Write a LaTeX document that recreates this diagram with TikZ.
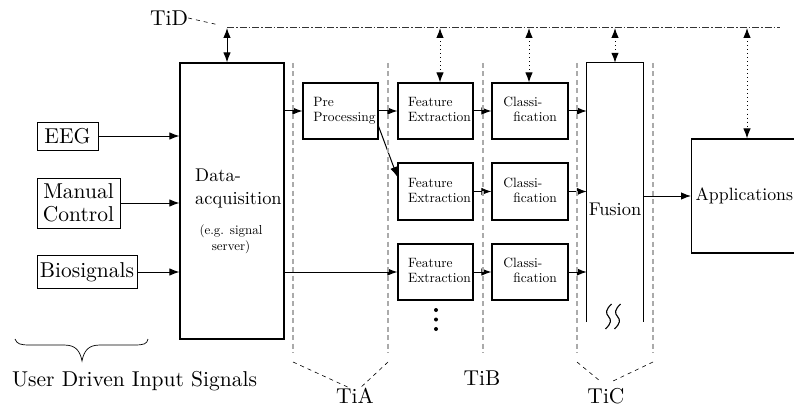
\documentclass[tikz,border=0pt]{standalone}
\usepackage{fontspec}
\setmainfont{lmroman10-regular.otf}
\usetikzlibrary{arrows.meta,calc}
\newcommand\lbl[2]{\begin{tabular}{@{\hspace{#1}}l@{}}#2\end{tabular}}
\begin{document}
\begin{tikzpicture}[x=1pt,y=-1pt,
 big/.style={font=\fontsize{21.5}{23}\selectfont},
 mid/.style={font=\fontsize{18.4}{23}\selectfont},
 small/.style={font=\fontsize{13.5}{15}\selectfont},
 inbox/.style={draw, line width=0.8pt, big, inner sep=0pt, align=center},
 blk/.style={draw, line width=1.2pt, inner sep=0pt},
 proc/.style={blk, small, minimum width=75pt, minimum height=56pt},
 arr/.style={line width=1pt, -{Latex[length=10pt,width=7.5pt]}},
 darr/.style={line width=1pt, {Latex[length=10pt,width=7.5pt]}-{Latex[length=10pt,width=7.5pt]}},
 dots/.style={dash pattern=on 1pt off 3pt},
 sep/.style={draw=black!33, line width=2.6pt, dash pattern=on 5pt off 3.5pt},
 tline/.style={line width=0.6pt, dash pattern=on 4pt off 4pt},
 tidline/.style={draw=black!80, line width=0.9pt, double=white, double distance=0.9pt, dash pattern=on 7pt off 2pt on 1.5pt off 2pt},
]
\clip (0,0) rectangle (794,409);

% input boxes
\node[inbox, minimum width=61pt, minimum height=28pt] (eeg) at (67.5,136) {EEG};
\node[inbox, minimum width=83pt, minimum height=50pt] (man) at (78.5,203) {Manual\\Control};
\node[inbox, minimum width=100pt, minimum height=33pt] (bio) at (87,272) {Biosignals};

% data acquisition
\node[blk, minimum width=104pt, minimum height=276pt] (daq) at (232,201) {};
\node[mid, align=left, inner sep=0pt, anchor=west] (daqt) at (195,188.5) {Data-\\acquisition};
\node[font=\fontsize{13}{16}\selectfont, align=center, inner sep=0pt] (daqs) at (231,239) {(e.g. signal\\server)};

% processing chain
\node[proc] (pp) at (340.5,111) {\lbl{8pt}{Pre\\Processing}};
\node[proc] (fe1) at (435.5,111) {\lbl{8pt}{Feature\\Extraction}};
\node[proc, minimum height=57pt] (fe2) at (435.5,191.5) {\lbl{8pt}{Feature\\Extraction}};
\node[proc] (fe3) at (435.5,272) {\lbl{8pt}{Feature\\Extraction}};
\node[proc, minimum width=76pt] (cl1) at (530,111) {\lbl{0pt}{Classi-\\\hspace*{10pt}fication}};
\node[proc, minimum width=76pt, minimum height=57pt] (cl2) at (530,191.5) {\lbl{0pt}{Classi-\\\hspace*{10pt}fication}};
\node[proc, minimum width=76pt] (cl3) at (530,272) {\lbl{0pt}{Classi-\\\hspace*{10pt}fication}};

\fill (436,310) circle (2pt) (436,319.5) circle (2pt) (436,329) circle (2pt);

% fusion
\node[minimum width=56pt, minimum height=259pt, inner sep=0pt] (fus) at (615,192.5) {};
\draw[line width=1.2pt] (fus.south west) -- (fus.north west) -- (fus.north east) -- (fus.south east);
\node[mid, inner sep=0pt] (fust) at (615,209) {Fusion};
\foreach \dx in {0,9} {
  \draw[line width=1.1pt, xshift=\dx pt] (611.5,304) .. controls (605.5,310) and (605.5,313) .. (608.5,316.5)
     .. controls (611.5,320) and (611.5,323) .. (605.5,329);
}

% applications
\node[blk, font=\fontsize{17.8}{23}\selectfont, anchor=west, minimum height=114pt, text width=120pt, align=left, inner xsep=4pt] (app) at (691,196) {Applications};

% arrows
\draw[arr] (eeg.east) -- (eeg.east -| daq.west);
\draw[arr] (man.east) -- (man.east -| daq.west);
\draw[arr] (bio.east) -- (bio.east -| daq.west);
\draw[arr] (pp.west -| daq.east) -- (pp.west);
\draw[arr] (fe3.west -| daq.east) -- (fe3.west);
\draw[arr] (pp.east) -- (fe1.west);
\draw[arr] ($(pp.east)!0.54!(pp.south east)$) -- ($(fe2.west)!0.5!(fe2.north west)$);
\draw[arr] (fe1.east) -- (cl1.west);
\draw[arr] (fe2.east) -- (cl2.west);
\draw[arr] (fe3.east) -- (cl3.west);
\draw[arr] (cl1.east) -- (cl1.east -| fus.west);
\draw[arr] (cl2.east) -- (cl2.east -| fus.west);
\draw[arr] (cl3.east) -- (cl3.east -| fus.west);
\draw[arr] (app.west -| fus.east) -- (app.west);

% TiD bus
\node[big, inner sep=0pt] (tid) at (169,18) {TiD};
\coordinate (tdd) at (219,25);
\draw[tline] (tid.east) -- (tdd);
\coordinate (tdl) at (227,28);
\coordinate (tdr) at (780,28);
\draw[tidline] (tdl) -- (tdr);
\draw[darr] (tdl) -- (tdl |- daq.north);
\coordinate (t1) at (440,28);
\coordinate (t2) at (529,28);
\coordinate (t3) at (615,28);
\coordinate (t4) at (747,28);
\draw[darr, dots] (t1) -- (t1 |- fe1.north);
\draw[darr, dots] (t2) -- (t2 |- cl1.north);
\draw[darr, dots] (t3) -- (t3 |- fus.north);
\draw[darr, dots] (t4) -- (t4 |- app.north);

% separators
\foreach \x in {293,388,483,577,653} \draw[sep] (\x,63) -- (\x,353);

% interface labels
\node[big, inner sep=0pt] (tia) at (355,396) {TiA};
\node[big, inner sep=0pt] (tib) at (482,378) {TiB};
\node[big, inner sep=0pt] (tic) at (606,396) {TiC};
\coordinate (sa1) at (293,362);
\coordinate (sa2) at (388,362);
\coordinate (sc1) at (577,362);
\coordinate (sc2) at (653,362);
\draw[tline] (sa1) -- ($(tia.north)+(-5,0)$);
\draw[tline] (sa2) -- ($(tia.north)+(5,0)$);
\draw[tline] (sc1) -- ($(tic.north)+(-6,-7)$);
\draw[tline] (sc2) -- ($(tic.north)+(5,-6)$);

% brace
\draw[line width=0.7pt] (15,339) .. controls (17,344) and (20,345) .. (30,345) -- (64,345)
  .. controls (76,345) and (80,351) .. (82,361) .. controls (84,351) and (88,345) .. (100,345)
  -- (134,345) .. controls (144,345) and (147,344) .. (148,339);
\node[big, inner sep=0pt] (uds) at (134.5,381) {User Driven Input Signals};
\end{tikzpicture}
\end{document}
